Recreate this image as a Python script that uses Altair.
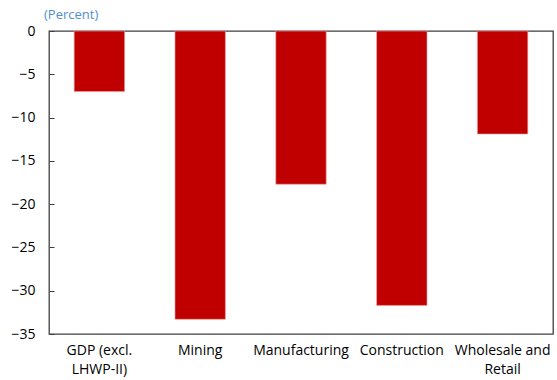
import altair as alt
import pandas as pd

categories = ["GDP (excl.\nLHWP-II)", "Mining", "Manufacturing", "Construction", "Wholesale and\nRetail"]
values = [-7.0, -33.3, -17.7, -31.7, -11.9]
y_ticks = [0, -5, -10, -15, -20, -25, -30, -35]
unit_label = "(Percent)"

df = pd.DataFrame({"cat": categories, "val": values})

FONT = "Open Sans"

bars = alt.Chart(df).mark_bar(
    color="#C00000", stroke="#F2A0A0", strokeWidth=0.6
).encode(
    x=alt.X("cat:N", sort=categories,
            scale=alt.Scale(paddingInner=0.5, paddingOuter=0.25),
            axis=alt.Axis(title=None, labelAngle=0, ticks=False, domain=False,
                          labelExpr="split(datum.label, '\\n')",
                          labelFont=FONT, labelFontSize=14, labelColor="#000000",
                          labelPadding=9, labelLineHeight=19, labelBaseline="top")),
    y=alt.Y("val:Q", scale=alt.Scale(domain=[-35, 0], nice=False, zero=False),
            axis=alt.Axis(title=None, values=y_ticks, domain=False, grid=False,
                          offset=-5, tickSize=5, tickColor="#404040", tickWidth=1,
                          labelPadding=14, labelFont=FONT, labelFontSize=14,
                          labelColor="#000000"))
)

unit = alt.Chart(pd.DataFrame({"t": [unit_label]})).mark_text(
    font=FONT, fontSize=13, color="#4F8FCB", align="left", baseline="middle"
).encode(text="t:N", x=alt.value(-5), y=alt.value(-16))

chart = (bars + unit).properties(
    width=504, height=303,
    autosize=alt.AutoSizeParams(type="none"),
    padding={"left": 49, "top": 31, "right": 4, "bottom": 46},
).configure_view(stroke="#404040", strokeWidth=1.3)

chart.save("out.html", embed_options={"renderer": "svg", "actions": False})
